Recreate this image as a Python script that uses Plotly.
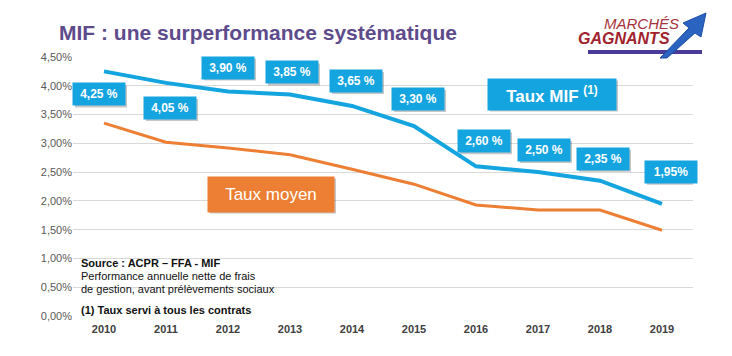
import plotly.graph_objects as go

years = ["2010", "2011", "2012", "2013", "2014", "2015", "2016", "2017", "2018", "2019"]
taux_mif = [4.25, 4.05, 3.90, 3.85, 3.65, 3.30, 2.60, 2.50, 2.35, 1.95]
taux_moyen = [3.35, 3.02, 2.92, 2.80, 2.55, 2.29, 1.93, 1.84, 1.84, 1.49]
mif_labels = ["4,25 %", "4,05 %", "3,90 %", "3,85 %", "3,65 %", "3,30 %",
              "2,60 %", "2,50 %", "2,35 %", "1,95%"]

# label placement offsets (pixels) relative to each point
label_dx = [-5, 4, 0, 2, 4, 4, 8, 6, 3, 9]
label_dy = [-23, -25, 24, 22, 25, 27, 25, 22, 22, 32]

BLUE = "#14A4DF"
ORANGE = "#EC7F33"
PURPLE = "#5E4B8B"
SHADOW = "rgba(0,0,0,0.22)"

# page body has an 8px margin: reference pixel = figure pixel + 8
OFF = 8
ML, MR, MT, MB, W, H = 73, 39, 57, 40, 732, 356
PW, PH = W - ML - MR, H - MT - MB


def px(x):
    return (x - ML) / PW


def py(y):
    return (H - MB - y) / PH


fig = go.Figure()
fig.add_trace(go.Scatter(x=list(range(len(years))), y=taux_moyen, mode="lines",
                         line=dict(color=ORANGE, width=3), hoverinfo="skip"))
fig.add_trace(go.Scatter(x=list(range(len(years))), y=taux_mif, mode="lines",
                         line=dict(color=BLUE, width=4), hoverinfo="skip"))

ann = []
shapes = []
BW, BH = 52, 22
for i, (v, t) in enumerate(zip(taux_mif, mif_labels)):
    dx, dy = label_dx[i], label_dy[i]
    shapes.append(dict(type="rect", xref="x", yref="y", xsizemode="pixel", ysizemode="pixel",
                       xanchor=i, yanchor=v,
                       x0=dx - BW / 2 + 2, x1=dx + BW / 2 + 2,
                       y0=dy - BH / 2 - 2, y1=dy + BH / 2 - 2,
                       fillcolor=SHADOW, line=dict(width=0), layer="above"))
    ann.append(dict(x=i, y=v, xref="x", yref="y", showarrow=False, text="<b>" + t + "</b>",
                    xshift=dx, yshift=dy, width=BW, height=BH, borderpad=0,
                    bgcolor=BLUE, align="center", valign="middle",
                    font=dict(family="Liberation Sans, Arial", size=12, color="white")))

# legend-like boxes
for txt, cx, cy, w, h, col in [
    ("<b>Taux MIF <sup>(1)</sup></b>", 552, 94, 128, 31, BLUE),
    ("Taux moyen", 271, 194, 126, 35, ORANGE),
]:
    shapes.append(dict(type="rect", xref="paper", yref="paper",
                       x0=px(cx - w / 2 + 2), x1=px(cx + w / 2 + 2),
                       y0=py(cy + h / 2 + 2), y1=py(cy - h / 2 + 2),
                       fillcolor=SHADOW, line=dict(width=0), layer="above"))
    ann.append(dict(x=px(cx), y=py(cy), xref="paper", yref="paper",
                    xanchor="center", yanchor="middle", showarrow=False, text=txt,
                    width=w, height=h, borderpad=0, bgcolor=col,
                    font=dict(family="Liberation Sans, Arial", size=17, color="white")))

# source notes
notes = [("<b>Source : ACPR – FFA - MIF</b>", 263),
         ("Performance annuelle nette de frais", 276),
         ("de gestion, avant prélèvements sociaux", 289),
         ("<b>(1) Taux servi à tous les contrats</b>", 310)]
for txt, y in notes:
    ann.append(dict(x=px(79), y=py(y), xref="paper", yref="paper",
                    xanchor="left", yanchor="middle", showarrow=False, text=txt,
                    font=dict(family="Liberation Sans, Arial", size=11, color="#111111")))

# title
ann.append(dict(x=px(57), y=py(33), xref="paper", yref="paper",
                xanchor="left", yanchor="middle", showarrow=False,
                text="<b>MIF : une surperformance systématique</b>",
                font=dict(family="Liberation Sans, Arial", size=21, color=PURPLE)))

# logo
ann.append(dict(x=px(641), y=py(23), xref="paper", yref="paper",
                xanchor="center", yanchor="middle", showarrow=False,
                text="<i>MARCHÉS</i>",
                font=dict(family="Liberation Sans, Arial", size=15, color="#A8323A")))
ann.append(dict(x=px(624), y=py(39), xref="paper", yref="paper",
                xanchor="center", yanchor="middle", showarrow=False,
                text="<b><i>GAGNANTS</i></b>",
                font=dict(family="Liberation Sans, Arial", size=16, color="#A0232E")))

arrow_pts = [(660, 58), (689, 28), (683, 23), (706, 13), (701, 37), (695, 33), (667, 58)]
shapes.append(dict(type="line", xref="paper", yref="paper",
                   x0=px(588), x1=px(702), y0=py(52), y1=py(52),
                   line=dict(color="#4A3A9A", width=4)))
shapes.append(dict(type="path", xref="paper", yref="paper",
                   path="M " + " L ".join("{:.4f} {:.4f}".format(px(a), py(b)) for a, b in arrow_pts) + " Z",
                   fillcolor="#2B63C0", line=dict(color="#1E4FA8", width=1)))

fig.update_layout(
    width=W - OFF, height=H - OFF,
    margin=dict(l=ML - OFF, r=MR, t=MT - OFF, b=MB),
    paper_bgcolor="white", plot_bgcolor="white",
    separators=", ",
    showlegend=False,
    annotations=ann,
    shapes=shapes,
    font=dict(family="Liberation Sans, Arial", color="#595959"),
    xaxis=dict(range=[-0.5, 9.5], showgrid=False, zeroline=False,
               showline=False, ticks="", ticklabelstandoff=5,
               tickfont=dict(size=11, color="#404040", family="Liberation Sans, Arial"),
               tickvals=list(range(len(years))), ticktext=["<b>" + y + "</b>" for y in years]),
    yaxis=dict(range=[0, 4.5], dtick=0.5, tickformat=".2f", ticksuffix="%",
               showgrid=True, gridcolor="#D9D9D9", gridwidth=1, zeroline=False,
               showline=False, ticks="",
               tickfont=dict(size=11, color="#595959", family="Liberation Sans, Arial")),
)

fig.write_html("out.html")
